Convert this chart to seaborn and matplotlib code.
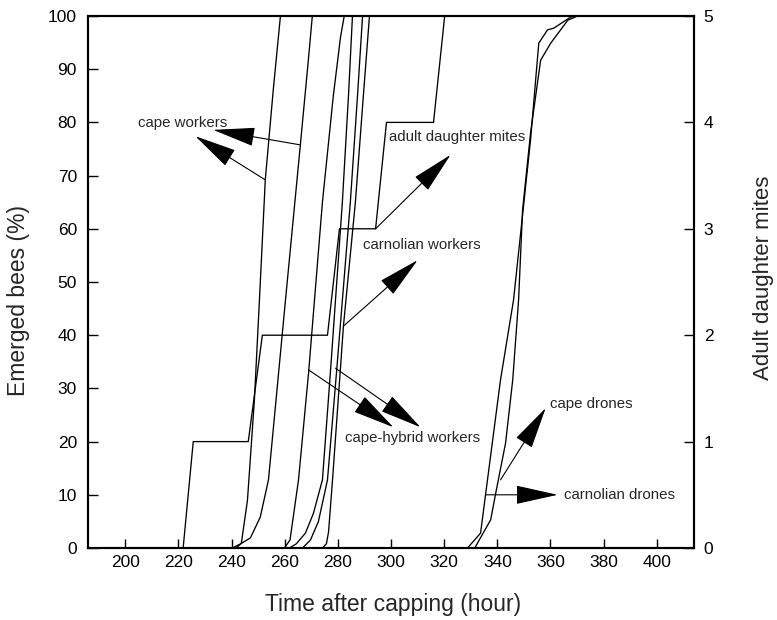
import numpy as np
import pandas as pd
import matplotlib
matplotlib.use("Agg")
import matplotlib.pyplot as plt
import seaborn as sns

# Cumulative emergence (%) versus time after capping (hours)
cape_w1_h = [241.8, 243.7, 246.0, 248.6, 250.5, 252.7, 255.7, 258.4]
cape_w1_p = [0.0, 0.9, 9.0, 27.8, 46.6, 69.2, 86.1, 100.0]

cape_w2_h = [240.3, 243.3, 247.1, 250.8, 253.9, 260.3, 265.9, 268.9, 270.4]
cape_w2_p = [0.0, 0.75, 1.9, 5.8, 12.8, 46.6, 75.8, 91.7, 100.0]

hybrid_w1_h = [259.9, 262.0, 265.2, 269.0, 274.2, 278.3, 281.0, 282.4]
hybrid_w1_p = [0.0, 1.5, 12.8, 33.0, 65.0, 85.0, 96.0, 100.0]

other_w_h = [261.8, 264.4, 267.8, 270.8, 274.2, 277.2, 281.7, 284.0, 285.5]
other_w_p = [0.0, 0.8, 2.8, 6.5, 12.8, 33.0, 65.0, 85.0, 100.0]

hybrid_w2_h = [266.7, 269.7, 272.7, 276.1, 279.5, 284.7, 287.4, 289.3]
hybrid_w2_p = [0.0, 1.5, 5.0, 12.8, 33.0, 65.0, 85.0, 100.0]

carn_w_h = [274.2, 275.7, 276.5, 278.0, 282.1, 286.6, 289.6, 291.9]
carn_w_p = [0.0, 0.8, 3.0, 12.8, 41.7, 65.0, 85.0, 100.0]

carn_d_h = [328.8, 333.7, 336.3, 341.2, 346.1, 352.5, 355.6, 358.9, 361.2, 367.6, 370.0]
carn_d_p = [0.0, 2.8, 12.8, 31.6, 46.6, 76.7, 94.9, 97.4, 97.7, 99.8, 100.0]

cape_d_h = [331.5, 337.5, 339.4, 343.1, 345.8, 348.0, 349.5, 352.5, 356.3, 360.1, 366.5, 370.2]
cape_d_p = [0.0, 5.3, 10.3, 19.7, 31.6, 46.6, 63.5, 78.0, 91.7, 94.9, 99.2, 100.0]

# Adult daughter mites (right axis)
mite_h = [186.0, 221.8, 225.6, 246.3, 251.6, 276.1, 280.6, 294.2, 298.3, 316.0, 320.2, 414.0]
mite_n = [0, 0, 1, 1, 2, 2, 3, 3, 4, 4, 5, 5]

x_ticks = [200, 220, 240, 260, 280, 300, 320, 340, 360, 380, 400]
y_ticks = [0, 10, 20, 30, 40, 50, 60, 70, 80, 90, 100]
mite_ticks = [0, 1, 2, 3, 4, 5]

series = {
    "cape workers 1": (cape_w1_h, cape_w1_p),
    "cape workers 2": (cape_w2_h, cape_w2_p),
    "cape-hybrid workers 1": (hybrid_w1_h, hybrid_w1_p),
    "workers": (other_w_h, other_w_p),
    "cape-hybrid workers 2": (hybrid_w2_h, hybrid_w2_p),
    "carnolian workers": (carn_w_h, carn_w_p),
    "carnolian drones": (carn_d_h, carn_d_p),
    "cape drones": (cape_d_h, cape_d_p),
}

frames = []
for name, (h, p) in series.items():
    hh = [186.0] + list(h) + [414.0]
    pp = [0.0] + list(p) + [100.0]
    frames.append(pd.DataFrame({"hour": hh, "pct": pp, "group": name}))
emerge = pd.concat(frames, ignore_index=True)
mites = pd.DataFrame({"hour": mite_h, "mites": mite_n})

sns.set_style("ticks")
plt.rcParams["font.family"] = ["Liberation Sans", "DejaVu Sans"]

fig = plt.figure(figsize=(7.77, 6.2), dpi=100)
ax = fig.add_axes([88 / 777, 1 - 548 / 620, 606 / 777, 532 / 620])

sns.lineplot(data=emerge, x="hour", y="pct", units="group", estimator=None,
             sort=False, color="black", lw=0.95, ax=ax)

ax2 = ax.twinx()
sns.lineplot(data=mites, x="hour", y="mites", estimator=None, sort=False,
             color="black", lw=0.95, ax=ax2)

ax.set_xlim(186, 414)
ax.set_ylim(0, 100)
ax2.set_ylim(0, 5)
ax.set_xticks(x_ticks)
ax.set_yticks(y_ticks)
ax2.set_yticks(mite_ticks)

for a in (ax, ax2):
    for s in a.spines.values():
        s.set_linewidth(1.5)
        s.set_color("black")

ax.tick_params(axis="x", direction="in", length=6.5, width=1.0, pad=5,
               labelsize=12.5, colors="black")
ax.tick_params(axis="y", direction="in", length=7, width=1.0, pad=8,
               labelsize=12.5, colors="black")
ax2.tick_params(axis="y", direction="in", length=7.5, width=1.0, pad=7,
                labelsize=12.5, colors="black")

ax.set_xlabel("")
ax.set_ylabel("")
ax2.set_ylabel("")
fig.text(393 / 777, 1 - 604 / 620, "Time after capping (hour)", fontsize=16.5,
         ha="center", va="center")
fig.text(19 / 777, 1 - 300 / 620, "Emerged bees (%)", fontsize=16.5,
         ha="center", va="center", rotation=90)
fig.text(764 / 777, 1 - 278 / 620, "Adult daughter mites", fontsize=16,
         ha="center", va="center", rotation=90)

# Arrow annotations pointing from the curves to the labels
arrow_kw = dict(arrowstyle="-|>,head_length=2.7,head_width=0.6",
                mutation_scale=10, lw=0.8, color="black",
                shrinkA=0, shrinkB=0)

arrows = [
    ((252.7, 69.2), (226.4, 77.4)),
    ((265.6, 75.8), (233.1, 78.6)),
    ((294.2, 60.0), (322.4, 73.9)),
    ((282.1, 41.7), (310.0, 54.1)),
    ((268.9, 33.5), (300.9, 22.7)),
    ((279.1, 33.8), (311.1, 22.7)),
    ((341.2, 12.8), (358.2, 26.3)),
    ((335.6, 10.0), (362.7, 10.0)),
]
for tail, tip in arrows:
    ax.annotate("", xy=tip, xytext=tail, arrowprops=arrow_kw)

labels = [
    ("cape workers", 221.5, 79.9),
    ("adult daughter mites", 324.8, 77.3),
    ("carnolian workers", 311.5, 57.0),
    ("cape-hybrid workers", 308.1, 20.7),
    ("cape drones", 375.5, 27.1),
    ("carnolian drones", 386.0, 10.0),
]
for txt, x, y in labels:
    ax.text(x, y, txt, fontsize=10.8, ha="center", va="center")

fig.savefig("out.png", dpi=100)
